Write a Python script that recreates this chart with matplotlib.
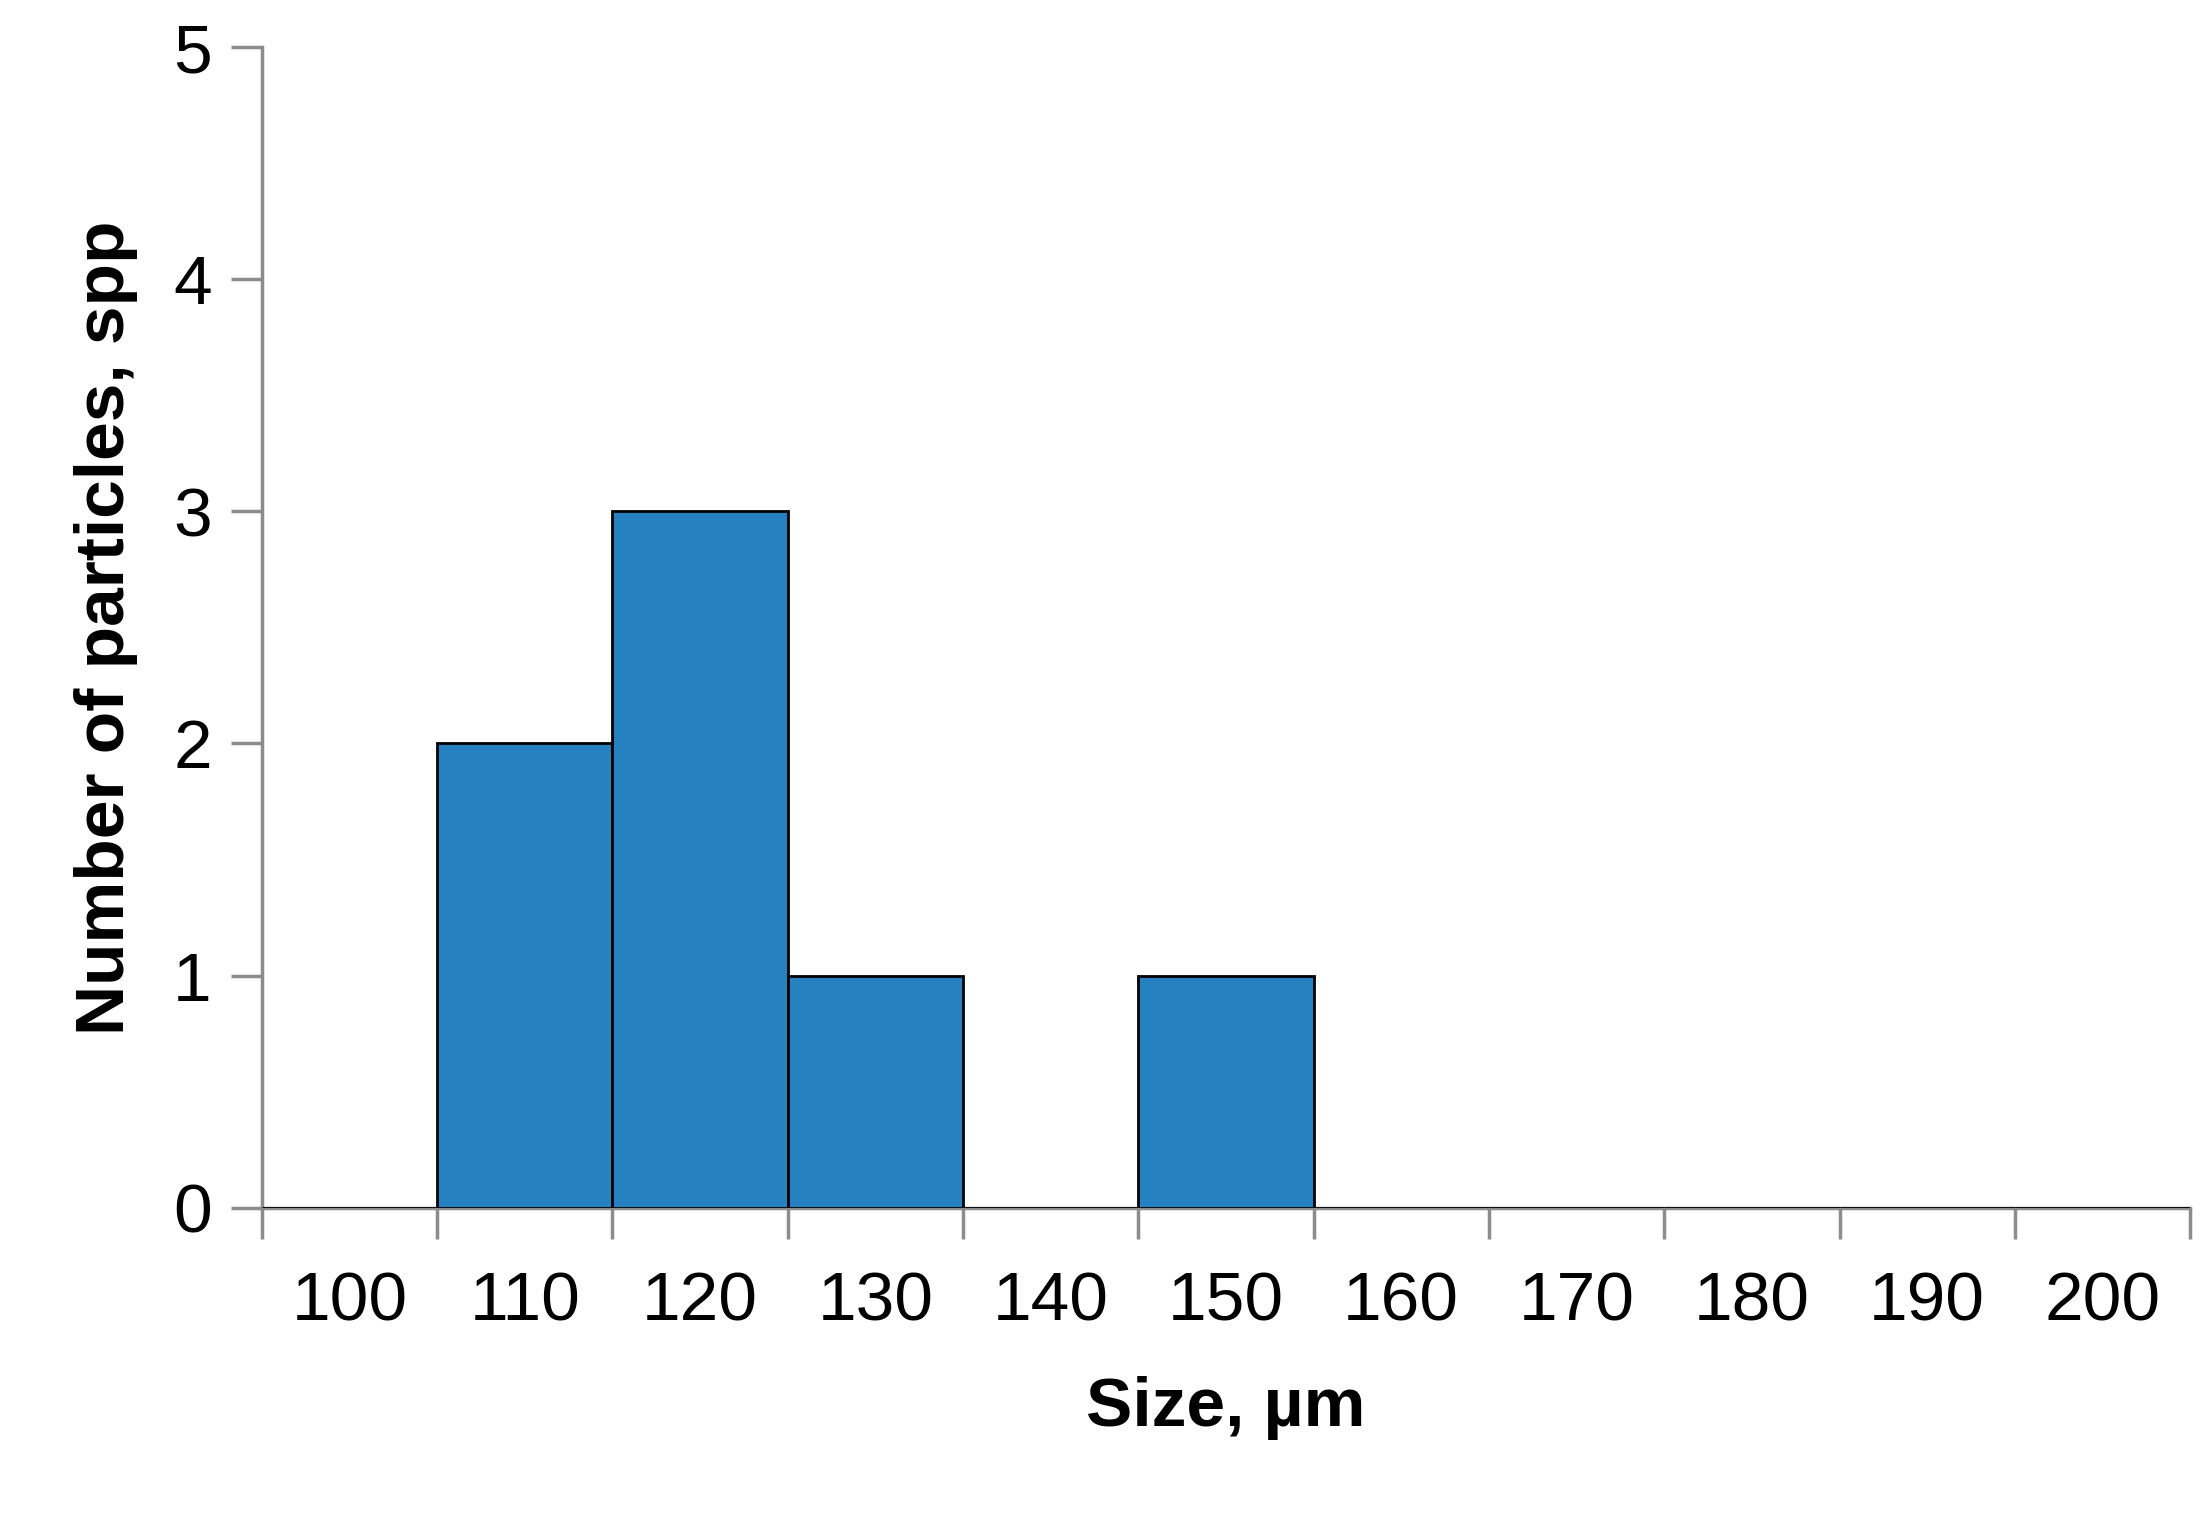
import matplotlib

matplotlib.use("Agg")
import matplotlib.pyplot as plt
import numpy as np

plt.rcParams["font.family"] = ["Liberation Sans", "DejaVu Sans"]

sizes = ["100", "110", "120", "130", "140", "150", "160", "170", "180", "190", "200"]
counts = [0, 2, 3, 1, 0, 1, 0, 0, 0, 0, 0]

fig = plt.figure(figsize=(22, 15.19), dpi=100)
ax = fig.add_axes([0.119, 0.205, 0.8765, 0.764])

x = np.arange(len(sizes))
ax.bar(x + 0.5, counts, width=1.0, color="#2581C0", edgecolor="black", linewidth=2.0, zorder=3)

ax.set_xlim(0, len(sizes))
ax.set_ylim(0, 5)
ax.set_xticks(np.arange(len(sizes) + 1))
ax.set_xticklabels([])
ax.set_xticks(x + 0.5, minor=True)
ax.set_xticklabels(sizes, minor=True)
ax.tick_params(axis="x", which="minor", length=0, pad=45, labelsize=50)
ax.tick_params(axis="x", which="major", length=22, width=2.5, color="#8c8c8c", direction="out")
ax.set_yticks(range(6))
ax.tick_params(axis="y", length=22, width=2.5, color="#8c8c8c", labelsize=50, pad=14)

for side in ("top", "right"):
    ax.spines[side].set_visible(False)
for side in ("left", "bottom"):
    ax.spines[side].set_color("#8c8c8c")
    ax.spines[side].set_linewidth(2.5)

ax.set_xlabel("Size, µm", fontsize=50, fontweight="bold", labelpad=30)
ax.set_ylabel("Number of particles, spp", fontsize=50, fontweight="bold", labelpad=25)

fig.savefig("out.png", dpi=100)
